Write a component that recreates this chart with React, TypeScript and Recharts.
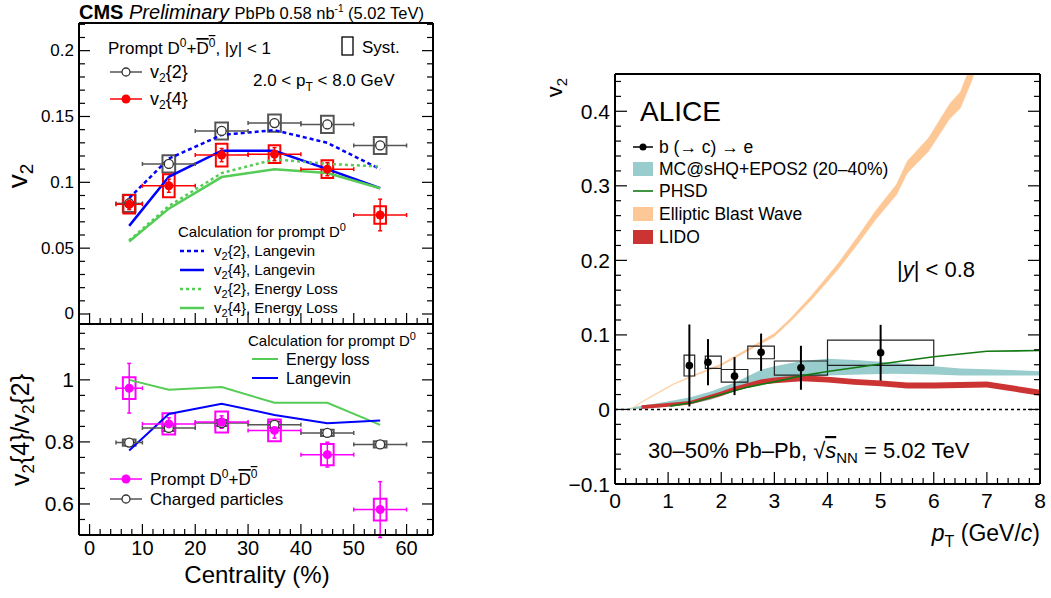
import React from "react";
import {
  ComposedChart,
  Line,
  Area,
  Scatter,
  XAxis,
  YAxis,
  ErrorBar,
  ReferenceArea,
  ReferenceLine,
} from "recharts";

const FONT = "'Liberation Sans', Arial, Helvetica, sans-serif";

// ---- CMS: v2 vs centrality (prompt D0) ----
const centrality = [7.5, 15, 25, 35, 45, 55];
const centHalf = [2.5, 5, 5, 5, 5, 5];

const v2c2 = [0.084, 0.114, 0.139, 0.145, 0.144, 0.128];
const v2c2Stat = [0.002, 0.003, 0.003, 0.003, 0.003, 0.003];
const v2c2Syst = [0.0065, 0.0065, 0.0065, 0.0065, 0.0065, 0.0065];

const v2c4 = [0.0833, 0.0974, 0.1207, 0.1214, 0.11, 0.0752];
const v2c4Stat = [0.004, 0.005, 0.005, 0.005, 0.005, 0.012];
const v2c4Syst = [0.007, 0.0088, 0.0086, 0.0067, 0.0067, 0.0066];

const langevinV22 = [0.088, 0.118, 0.136, 0.1396, 0.13, 0.11];
const langevinV24 = [0.0669, 0.1042, 0.124, 0.124, 0.11, 0.0955];
const elossV22 = [0.0558, 0.082, 0.107, 0.1174, 0.114, 0.112];
const elossV24 = [0.055, 0.08, 0.104, 0.11, 0.107, 0.0955];

// ---- CMS: v2{4}/v2{2} ----
const ratioEloss = [1.0, 0.968, 0.977, 0.926, 0.926, 0.855];
const ratioLangevin = [0.772, 0.89, 0.923, 0.887, 0.86, 0.869];
const ratioCharged = [0.798, 0.845, 0.861, 0.855, 0.829, 0.792];
const ratioChargedStat = [0.004, 0.004, 0.004, 0.004, 0.004, 0.004];
const ratioChargedSyst = [0.01, 0.01, 0.01, 0.01, 0.01, 0.01];
const ratioD0 = [0.973, 0.858, 0.864, 0.837, 0.759, 0.582];
const ratioD0Stat = [0.08, 0.02, 0.02, 0.025, 0.04, 0.09];
const ratioD0Syst = [0.035, 0.034, 0.034, 0.035, 0.034, 0.035];

// ---- ALICE: b(->c)->e v2 vs pT ----
const ptE = [1.4, 1.75, 2.25, 2.75, 3.5, 5.0];
const v2E = [0.059, 0.0634, 0.0447, 0.0768, 0.0559, 0.076];
const v2EStat = [0.055, 0.031, 0.0255, 0.025, 0.0295, 0.0375];
const boxPtLo = [1.3, 1.7, 2.0, 2.5, 3.0, 4.0];
const boxPtHi = [1.5, 2.0, 2.5, 3.0, 4.0, 6.0];
const boxV2Lo = [0.0449, 0.055, 0.0366, 0.068, 0.046, 0.059];
const boxV2Hi = [0.0728, 0.0715, 0.0536, 0.085, 0.065, 0.093];

const mcPt = [0.2, 0.5, 0.85, 1.4, 1.8, 2.26, 2.76, 3.0, 3.52, 4.0, 4.6, 5.24, 6.0, 6.5, 7.0, 8.0];
const mcLo = [0, 0.001, 0.003, 0.0067, 0.013, 0.0245, 0.036, 0.039, 0.0425, 0.0456, 0.047, 0.048, 0.047, 0.0456, 0.0456, 0.0456];
const mcHi = [0.001, 0.005, 0.009, 0.016, 0.024, 0.036, 0.0536, 0.058, 0.065, 0.068, 0.066, 0.0626, 0.058, 0.055, 0.054, 0.0514];

const lidoPt = [0.5, 1.0, 1.41, 2.0, 2.26, 2.76, 3.0, 3.52, 4.0, 4.5, 5.0, 5.5, 6.0, 7.0, 7.5, 8.0];
const lidoMid = [0.003, 0.006, 0.009, 0.021, 0.0277, 0.037, 0.039, 0.042, 0.04, 0.037, 0.035, 0.032, 0.032, 0.0335, 0.028, 0.0224];
const lidoHalf = [0.0025, 0.0025, 0.0025, 0.003, 0.003, 0.0035, 0.004, 0.004, 0.004, 0.004, 0.004, 0.004, 0.004, 0.004, 0.004, 0.004];

const phsdPt = [1.04, 1.5, 2.0, 2.5, 3.0, 3.5, 4.0, 5.0, 6.0, 7.0, 8.0];
const phsdV2 = [0.0045, 0.01, 0.02, 0.03, 0.037, 0.045, 0.051, 0.061, 0.0707, 0.078, 0.079];

const bwPt = [0.3, 0.5, 0.8, 1.1, 1.5, 2.0, 2.5, 3.0, 3.3, 3.7, 4.2, 4.6, 4.9, 5.3, 5.5, 5.9, 6.3, 6.5, 6.7, 6.8];
const bwMid = [0, 0.01, 0.022, 0.034, 0.046, 0.06, 0.08, 0.1, 0.12, 0.15, 0.192, 0.23, 0.26, 0.295, 0.325, 0.355, 0.4, 0.415, 0.45, 0.47];
const bwHalf = [0.0005, 0.0005, 0.0005, 0.0005, 0.0007, 0.001, 0.0015, 0.002, 0.002, 0.003, 0.004, 0.005, 0.006, 0.007, 0.008, 0.009, 0.01, 0.011, 0.012, 0.012];

// ---- tick values ----
const steps = (a: number, b: number, s: number) =>
  Array.from({ length: Math.round((b - a) / s) + 1 }, (_, i) => +(a + i * s).toFixed(4));

const centMajors = [0, 10, 20, 30, 40, 50, 60];
const centTicks = steps(-2, 64, 2);
const v2Majors = [0, 0.05, 0.1, 0.15, 0.2];
const v2Ticks = steps(0, 0.22, 0.01);
const ratioMajors = [0.6, 0.8, 1.0];
const ratioTicks = steps(0.55, 1.15, 0.05);
const ptMajors = [0, 1, 2, 3, 4, 5, 6, 7, 8];
const ptTicks = steps(0, 8, 0.2);
const aliceMajors = [-0.1, 0, 0.1, 0.2, 0.3, 0.4];
const aliceTicks = steps(-0.1, 0.44, 0.02);

// ---- derived tables ----
const pts = (ys: number[], ex: number[], ey: number[]) =>
  centrality.map((x, i) => ({ x, y: ys[i], ex: ex[i], ey: ey[i] }));
const curve = (xs: number[], ys: number[]) => xs.map((x, i) => ({ x, y: ys[i] }));

const v2c2Pts = pts(v2c2, centHalf, v2c2Stat);
const v2c4Pts = pts(v2c4, centHalf, v2c4Stat);
const chargedPts = pts(ratioCharged, centHalf, ratioChargedStat);
const d0Pts = pts(ratioD0, centHalf, ratioD0Stat);
const ePts = ptE.map((x, i) => ({ x, y: v2E[i], ey: v2EStat[i] }));
const mcBand = mcPt.map((x, i) => ({ x, r: [mcLo[i], mcHi[i]] }));
const lidoBand = lidoPt.map((x, i) => ({ x, r: [lidoMid[i] - lidoHalf[i], lidoMid[i] + lidoHalf[i]] }));
const bwBand = bwPt.map((x, i) => ({ x, r: [bwMid[i] - bwHalf[i], bwMid[i] + bwHalf[i]] }));

type Side = "left" | "right" | "top" | "bottom";
const near = (a: number, b: number) => Math.abs(a - b) < 1e-6;
const fmt = (v: number) => (v < -1e-9 ? "\u2212" : "") + String(+Math.abs(v).toFixed(3));

function tickFn(side: Side, majors: number[], big: number, small: number, fontSize = 0, off = 0) {
  return (props: any) => {
    const { x, y, payload } = props;
    const v = payload.value;
    const isMajor = majors.some((m) => near(m, v));
    const len = isMajor ? big : small;
    const dx = side === "left" ? len : side === "right" ? -len : 0;
    const dy = side === "bottom" ? -len : side === "top" ? len : 0;
    let label = null;
    if (fontSize && isMajor) {
      label =
        side === "left" ? (
          <text x={x - off} y={y} textAnchor="end" dominantBaseline="central" fontSize={fontSize} fill="#000">
            {fmt(v)}
          </text>
        ) : (
          <text x={x} y={y + off} textAnchor="middle" fontSize={fontSize} fill="#000">
            {fmt(v)}
          </text>
        );
    }
    return (
      <g>
        <line x1={x} y1={y} x2={x + dx} y2={y + dy} stroke="#000" strokeWidth={1.2} />
        {label}
      </g>
    );
  };
}

const axisLine = { stroke: "#000", strokeWidth: 2 };

function frame(p: {
  xd: [number, number];
  yd: [number, number];
  xt: number[];
  xm: number[];
  yt: number[];
  ym: number[];
  yw: number;
  xh: number;
  big: number;
  small: number;
  xfs?: number;
  xoff?: number;
  yfs?: number;
  yoff?: number;
}) {
  const common = {
    type: "number" as const,
    allowDataOverflow: true,
    interval: 0 as const,
    tickSize: 0,
    tickMargin: 0,
    tickLine: false,
    axisLine,
  };
  return [
    <XAxis key="xb" xAxisId="b" dataKey="x" orientation="bottom" domain={p.xd} ticks={p.xt} height={p.xh}
      tick={tickFn("bottom", p.xm, p.big, p.small, p.xfs, p.xoff)} {...common} />,
    <XAxis key="xt" xAxisId="t" orientation="top" domain={p.xd} ticks={p.xt} height={1}
      tick={tickFn("top", p.xm, p.big, p.small)} {...common} />,
    <YAxis key="yl" yAxisId="l" orientation="left" domain={p.yd} ticks={p.yt} width={p.yw}
      tick={tickFn("left", p.ym, p.big, p.small, p.yfs, p.yoff)} {...common} />,
    <YAxis key="yr" yAxisId="r" orientation="right" domain={p.yd} ticks={p.yt} width={1}
      tick={tickFn("right", p.ym, p.big, p.small)} {...common} />,
  ];
}

const openCircle = (color: string) => (p: any) =>
  <circle cx={p.cx} cy={p.cy} r={4.5} fill="#fff" stroke={color} strokeWidth={1.3} />;
const dot = (color: string, r: number) => (p: any) => <circle cx={p.cx} cy={p.cy} r={r} fill={color} />;

function boxes(prefix: string, ys: number[], syst: number[], color: string, halfX: number) {
  return centrality.map((c, i) => (
    <ReferenceArea key={prefix + i} xAxisId="b" yAxisId="l" x1={c - halfX} x2={c + halfX}
      y1={ys[i] - syst[i]} y2={ys[i] + syst[i]} fill="none" fillOpacity={0} stroke={color} strokeWidth={2} />
  ));
}

function TopLeft() {
  return (
    <ComposedChart width={434} height={325} margin={{ top: 22, right: 0, bottom: 0, left: 0 }}>
      {frame({ xd: [-2, 65], yd: [-0.0076, 0.221], xt: centTicks, xm: centMajors, yt: v2Ticks, ym: v2Majors,
        yw: 79, xh: 1, big: 11, small: 6, yfs: 17, yoff: 5 })}
      {boxes("b2", v2c2, v2c2Syst, "#555", 1.2)}
      {boxes("b4", v2c4, v2c4Syst, "#ff0000", 1.1)}
      <Line xAxisId="b" yAxisId="l" data={curve(centrality, langevinV22)} dataKey="y" type="linear" stroke="#0000ff"
        strokeWidth={2.5} strokeDasharray="4 3" dot={false} isAnimationActive={false} />
      <Line xAxisId="b" yAxisId="l" data={curve(centrality, langevinV24)} dataKey="y" type="linear" stroke="#0000ff"
        strokeWidth={2.5} dot={false} isAnimationActive={false} />
      <Line xAxisId="b" yAxisId="l" data={curve(centrality, elossV22)} dataKey="y" type="linear" stroke="#55cc55"
        strokeWidth={2.5} strokeDasharray="3 3" dot={false} isAnimationActive={false} />
      <Line xAxisId="b" yAxisId="l" data={curve(centrality, elossV24)} dataKey="y" type="linear" stroke="#55cc55"
        strokeWidth={2.5} dot={false} isAnimationActive={false} />
      <Scatter xAxisId="b" yAxisId="l" data={v2c2Pts} dataKey="y" shape={openCircle("#333")} isAnimationActive={false}>
        <ErrorBar dataKey="ex" direction="x" width={2} stroke="#555" strokeWidth={1.5} />
        <ErrorBar dataKey="ey" direction="y" width={2} stroke="#555" strokeWidth={1.5} />
      </Scatter>
      <Scatter xAxisId="b" yAxisId="l" data={v2c4Pts} dataKey="y" shape={dot("#ff0000", 4.5)} isAnimationActive={false}>
        <ErrorBar dataKey="ex" direction="x" width={2} stroke="#ff0000" strokeWidth={1.5} />
        <ErrorBar dataKey="ey" direction="y" width={2} stroke="#ff0000" strokeWidth={1.5} />
      </Scatter>
    </ComposedChart>
  );
}

function BottomLeft() {
  return (
    <ComposedChart width={434} height={598} margin={{ top: 323, right: 0, bottom: 2, left: 0 }}>
      {frame({ xd: [-2, 65], yd: [0.5, 1.18], xt: centTicks, xm: centMajors, yt: ratioTicks, ym: ratioMajors,
        yw: 79, xh: 61, big: 11, small: 6, xfs: 20, xoff: 20, yfs: 21, yoff: 5 })}
      <Line xAxisId="b" yAxisId="l" data={curve(centrality, ratioEloss)} dataKey="y" type="linear" stroke="#55cc55"
        strokeWidth={2} dot={false} isAnimationActive={false} />
      <Line xAxisId="b" yAxisId="l" data={curve(centrality, ratioLangevin)} dataKey="y" type="linear" stroke="#0000ff"
        strokeWidth={2} dot={false} isAnimationActive={false} />
      {boxes("bc", ratioCharged, ratioChargedSyst, "#555", 1.2)}
      {boxes("bd", ratioD0, ratioD0Syst, "#ff00ff", 1.2)}
      <Scatter xAxisId="b" yAxisId="l" data={chargedPts} dataKey="y" shape={openCircle("#333")} isAnimationActive={false}>
        <ErrorBar dataKey="ex" direction="x" width={2} stroke="#555" strokeWidth={1.5} />
        <ErrorBar dataKey="ey" direction="y" width={2} stroke="#555" strokeWidth={1.5} />
      </Scatter>
      <Scatter xAxisId="b" yAxisId="l" data={d0Pts} dataKey="y" shape={dot("#ff00ff", 4.5)} isAnimationActive={false}>
        <ErrorBar dataKey="ex" direction="x" width={2} stroke="#ff00ff" strokeWidth={1.5} />
        <ErrorBar dataKey="ey" direction="y" width={2} stroke="#ff00ff" strokeWidth={1.5} />
      </Scatter>
    </ComposedChart>
  );
}

function RightPanel() {
  return (
    <ComposedChart width={511} height={598} margin={{ top: 73, right: 10, bottom: 53, left: 0 }}>
      {frame({ xd: [0, 8], yd: [-0.1, 0.45], xt: ptTicks, xm: ptMajors, yt: aliceTicks, ym: aliceMajors,
        yw: 75, xh: 61, big: 12, small: 6, xfs: 21, xoff: 24, yfs: 21, yoff: 5 })}
      <Area xAxisId="b" yAxisId="l" data={mcBand} dataKey="r" type="linear" stroke="none" fill="#99cccc"
        fillOpacity={1} isAnimationActive={false} />
      <Area xAxisId="b" yAxisId="l" data={lidoBand} dataKey="r" type="linear" stroke="none" fill="#cc3333"
        fillOpacity={1} isAnimationActive={false} />
      <Line xAxisId="b" yAxisId="l" data={curve(phsdPt, phsdV2)} dataKey="y" type="linear" stroke="#137a13"
        strokeWidth={1.6} dot={false} isAnimationActive={false} />
      <Area xAxisId="b" yAxisId="l" data={bwBand} dataKey="r" type="linear" stroke="#fdc896" strokeWidth={0.8}
        strokeOpacity={0.6} fill="#fdc896" fillOpacity={1} isAnimationActive={false} />
      <ReferenceLine xAxisId="b" yAxisId="l" y={0} stroke="#000" strokeWidth={1.5} strokeDasharray="3 3" />
      {ptE.map((x, i) => (
        <ReferenceArea key={"eb" + i} xAxisId="b" yAxisId="l" x1={boxPtLo[i]} x2={boxPtHi[i]} y1={boxV2Lo[i]}
          y2={boxV2Hi[i]} fill="none" fillOpacity={0} stroke="#222" strokeWidth={1.2} />
      ))}
      <Scatter xAxisId="b" yAxisId="l" data={ePts} dataKey="y" shape={dot("#000", 3.8)} isAnimationActive={false}>
        <ErrorBar dataKey="ey" direction="y" width={0} stroke="#000" strokeWidth={2} />
      </Scatter>
    </ComposedChart>
  );
}

function Overlay() {
  const t = { fill: "#000" };
  return (
    <svg width={1051} height={598} style={{ position: "absolute", left: 0, top: 0, pointerEvents: "none" }}
      fontFamily={FONT}>
      {/* CMS header */}
      <text x={79} y={19} fontSize={20} {...t}>
        <tspan fontWeight="bold">CMS</tspan>
        <tspan fontStyle="italic">{" Preliminary "}</tspan>
        <tspan fontSize={16.5}>PbPb 0.58 nb</tspan>
        <tspan fontSize={10} dy={-7}>-1</tspan>
        <tspan fontSize={16.5} dy={7}>{" (5.02 TeV)"}</tspan>
      </text>
      <text transform="translate(27,176) rotate(-90)" textAnchor="middle" fontSize={28} {...t}>
        v<tspan fontSize={19} dy={6}>2</tspan>
      </text>
      <text transform="translate(29,430) rotate(-90)" textAnchor="middle" fontSize={25} {...t}>
        v<tspan fontSize={17} dy={5}>2</tspan>
        <tspan dy={-5}>{"{4}/v"}</tspan>
        <tspan fontSize={17} dy={5}>2</tspan>
        <tspan dy={-5}>{"{2}"}</tspan>
      </text>
      <text x={257} y={583} textAnchor="middle" fontSize={24} {...t}>Centrality (%)</text>

      {/* top-left legend */}
      <text x={108} y={54} fontSize={17} {...t}>
        {"Prompt D"}
        <tspan fontSize={12} dy={-7}>0</tspan>
        <tspan dy={7}>+</tspan>
        <tspan style={{ textDecoration: "overline" }}>D</tspan>
        <tspan fontSize={12} dy={-7} style={{ textDecoration: "overline" }}>0</tspan>
        <tspan dy={7}>{", |y| < 1"}</tspan>
      </text>
      <rect x={342} y={37} width={11} height={18} fill="none" stroke="#000" strokeWidth={1.3} />
      <text x={362} y={53} fontSize={17} {...t}>Syst.</text>
      <line x1={110} y1={72} x2={142} y2={72} stroke="#555" strokeWidth={1.5} />
      <circle cx={126} cy={72} r={4} fill="#fff" stroke="#333" strokeWidth={1.3} />
      <text x={150} y={78} fontSize={18} {...t}>
        v<tspan fontSize={12} dy={4}>2</tspan>
        <tspan dy={-4}>{"{2}"}</tspan>
      </text>
      <line x1={110} y1={99} x2={142} y2={99} stroke="#ff0000" strokeWidth={1.5} />
      <circle cx={126} cy={99} r={4.5} fill="#ff0000" />
      <text x={150} y={105} fontSize={18} {...t}>
        v<tspan fontSize={12} dy={4}>2</tspan>
        <tspan dy={-4}>{"{4}"}</tspan>
      </text>
      <text x={253} y={86} fontSize={17} {...t}>
        {"2.0 < p"}
        <tspan fontSize={12} dy={5}>T</tspan>
        <tspan dy={-5}>{" < 8.0 GeV"}</tspan>
      </text>

      <text x={178} y={237} fontSize={15} {...t}>
        {"Calculation for prompt D"}
        <tspan fontSize={11} dy={-6}>0</tspan>
      </text>
      {[
        { y: 251, c: "#0000ff", d: "4 3", s: "{2}, Langevin" },
        { y: 270, c: "#0000ff", d: undefined, s: "{4}, Langevin" },
        { y: 289, c: "#55cc55", d: "3 3", s: "{2}, Energy Loss" },
        { y: 308, c: "#55cc55", d: undefined, s: "{4}, Energy Loss" },
      ].map((e) => (
        <g key={e.s}>
          <line x1={180} y1={e.y} x2={204} y2={e.y} stroke={e.c} strokeWidth={2.5} strokeDasharray={e.d} />
          <text x={214} y={e.y + 5} fontSize={15} {...t}>
            v<tspan fontSize={11} dy={4}>2</tspan>
            <tspan dy={-4}>{e.s}</tspan>
          </text>
        </g>
      ))}

      {/* bottom-left legend */}
      <text x={248} y={346} fontSize={15} {...t}>
        {"Calculation for prompt D"}
        <tspan fontSize={11} dy={-6}>0</tspan>
      </text>
      <line x1={252} y1={359} x2={278} y2={359} stroke="#55cc55" strokeWidth={2} />
      <text x={286} y={365} fontSize={16} {...t}>Energy loss</text>
      <line x1={252} y1={378} x2={278} y2={378} stroke="#0000ff" strokeWidth={2} />
      <text x={286} y={384} fontSize={16} {...t}>Langevin</text>

      <line x1={110} y1={479} x2={142} y2={479} stroke="#ff00ff" strokeWidth={1.5} />
      <circle cx={126} cy={479} r={4.5} fill="#ff00ff" />
      <text x={150} y={485} fontSize={17} {...t}>
        {"Prompt D"}
        <tspan fontSize={12} dy={-7}>0</tspan>
        <tspan dy={7}>+</tspan>
        <tspan style={{ textDecoration: "overline" }}>D</tspan>
        <tspan fontSize={12} dy={-7} style={{ textDecoration: "overline" }}>0</tspan>
      </text>
      <line x1={110} y1={499} x2={142} y2={499} stroke="#555" strokeWidth={1.5} />
      <circle cx={126} cy={499} r={4} fill="#fff" stroke="#333" strokeWidth={1.3} />
      <text x={150} y={505} fontSize={17} {...t}>Charged particles</text>

      {/* ALICE panel */}
      <text transform="translate(562,78) rotate(-90)" textAnchor="end" fontSize={22} {...t}>
        v<tspan fontSize={15} dy={5}>2</tspan>
      </text>
      <text x={640} y={121} fontSize={28} {...t}>ALICE</text>
      <line x1={633} y1={147} x2={653} y2={147} stroke="#000" strokeWidth={1.5} />
      <circle cx={643} cy={147} r={3.5} fill="#000" />
      <text x={659} y={153} fontSize={17.5} {...t}>{"b (\u2192 c) \u2192 e"}</text>
      <rect x={633} y={162} width={20} height={14} fill="#99cccc" />
      <text x={659} y={175} fontSize={17.5} {...t}>{"MC@sHQ+EPOS2 (20\u201340%)"}</text>
      <line x1={633} y1={191} x2={653} y2={191} stroke="#137a13" strokeWidth={1.6} />
      <text x={659} y={197} fontSize={17.5} {...t}>PHSD</text>
      <rect x={633} y={207} width={20} height={14} fill="#fdc896" />
      <text x={659} y={220} fontSize={17.5} {...t}>Elliptic Blast Wave</text>
      <rect x={633} y={230} width={20} height={14} fill="#cc3333" />
      <text x={659} y={243} fontSize={17.5} {...t}>LIDO</text>
      <text x={897} y={277} fontSize={22} {...t}>
        |<tspan fontStyle="italic">y</tspan>
        <tspan>{"| < 0.8"}</tspan>
      </text>
      <text x={648} y={458} fontSize={22} {...t}>
        {"30\u201350% Pb\u2013Pb, \u221A"}
        <tspan fontStyle="italic" style={{ textDecoration: "overline" }}>s</tspan>
        <tspan fontSize={15} dy={5}>NN</tspan>
        <tspan dy={-5}>{" = 5.02 TeV"}</tspan>
      </text>
      <text x={1040} y={541} fontSize={23} textAnchor="end" {...t}>
        <tspan fontStyle="italic">p</tspan>
        <tspan fontSize={16} dy={6}>T</tspan>
        <tspan dy={-6}>{" (GeV/"}</tspan>
        <tspan fontStyle="italic">c</tspan>
        <tspan>)</tspan>
      </text>
    </svg>
  );
}

export default function App() {
  return (
    <div style={{ position: "absolute", left: 0, top: 0, width: 1051, height: 598, background: "#fff",
      fontFamily: FONT, overflow: "hidden" }}>
      <div style={{ position: "absolute", left: 0, top: 0 }}>
        <TopLeft />
      </div>
      <div style={{ position: "absolute", left: 0, top: 0 }}>
        <BottomLeft />
      </div>
      <div style={{ position: "absolute", left: 540, top: 0 }}>
        <RightPanel />
      </div>
      <Overlay />
    </div>
  );
}
